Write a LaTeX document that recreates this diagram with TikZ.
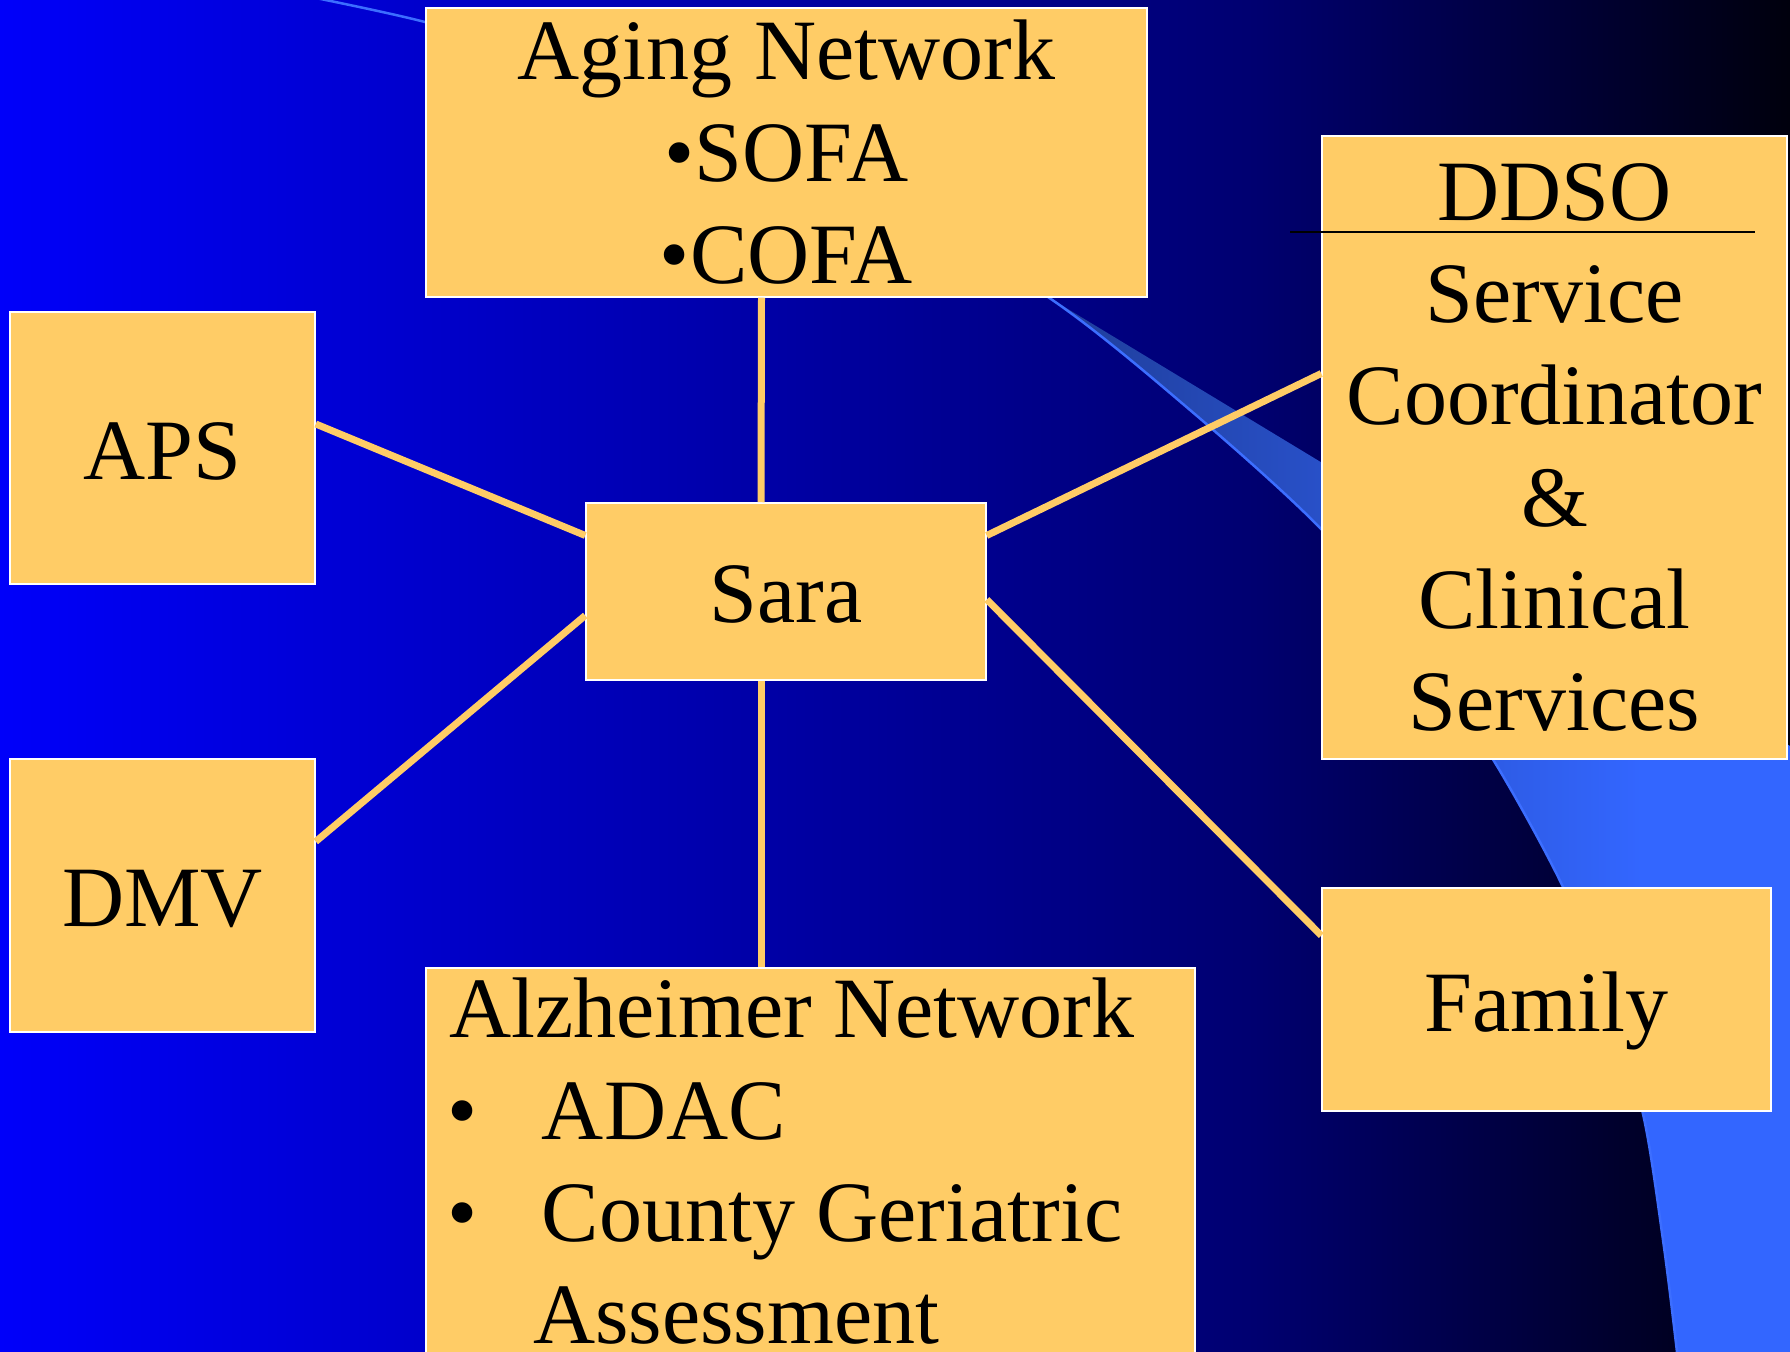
\documentclass[tikz,border=0pt]{standalone}
\usepackage{fontspec}
\setmainfont{Liberation Serif}

\definecolor{boxfill}{RGB}{255,204,102}
\definecolor{arcblue}{RGB}{60,110,255}
\pgfdeclarehorizontalshading{bgblend}{100bp}{rgb(0bp)=(0,0,0.98); rgb(25bp)=(0,0,0.98); rgb(60bp)=(0,0,0.44); rgb(75bp)=(0,0,0.05); rgb(100bp)=(0,0,0.05)}
\pgfdeclarehorizontalshading{swoosh}{100bp}{rgb(0bp)=(0.12,0.24,0.6); rgb(25bp)=(0.12,0.24,0.6); rgb(65bp)=(0.2,0.4,1); rgb(100bp)=(0.2,0.4,1)}

\begin{document}
\begin{tikzpicture}[
    x=0.5pt, y=-0.5pt,
    agency/.style={draw=white, line width=0.75pt, fill=boxfill, inner sep=0pt,
                   align=center, font=\fontsize{43}{51}\selectfont},
    single/.style={agency, text height=41pt, text depth=9.5pt},
    link/.style={draw=boxfill, line width=3.5pt}]

\useasboundingbox (0,0) rectangle (1790,1352);
\shade[shading=bgblend] (0,0) rectangle (1790,1352);

% background swoosh
\begin{scope}
  \clip plot[smooth] coordinates {(250,-15) (425,22) (640,85) (850,180) (1048,297) (1190,410) (1322,530) (1420,650) (1497,766) (1563,887) (1608,1000) (1643,1114) (1663,1240) (1677,1352) (1684,1420)}
        -- (1790,1420) -- (1790,-30) -- cycle;
  \shade[shading=swoosh] (1048,297) -- (1790,746) -- (1790,1352) -- (1048,1352) -- cycle;
\end{scope}
\draw[arcblue, line width=1.25pt] plot[smooth] coordinates {(250,-15) (425,22) (640,85) (850,180) (1048,297) (1190,410) (1322,530) (1420,650) (1497,766) (1563,887) (1608,1000) (1643,1114) (1663,1240) (1677,1352) (1684,1420)};

\node[agency, minimum width=360.5pt, minimum height=144.5pt] (aging) at (786.5,152.5) {Aging Network\\•SOFA\\•COFA};
\node[single, minimum width=152.5pt, minimum height=136pt] (aps) at (162.5,448) {APS};
\node[single, minimum width=200pt, minimum height=88.5pt] (sara) at (786,591.5) {Sara};
\node[single, minimum width=152.5pt, minimum height=136.5pt] (dmv) at (162.5,895.5) {DMV};
\node[agency, align=flush left, text width=361.5pt, inner xsep=11.5pt, minimum height=193pt] (alz) at (810.5,1161)
  {Alzheimer Network\\\makebox[46.5pt][l]{\hspace{-1pt}•}ADAC\\\makebox[46.5pt][l]{\hspace{-1pt}•}County Geriatric\\\hspace*{42pt}Assessment};
\node[agency, minimum width=232.5pt, minimum height=311.5pt] (ddso) at (1554.5,447.5)
  {DDSO\\Service\\Coordinator\\\&\\Clinical\\Services};
\node[single, minimum width=224.5pt, minimum height=111.5pt] (family) at (1546.5,999.5) {Family};

% rule under DDSO
\draw[line width=0.75pt] (1290,232) -- (1755,232);

\draw[link] ([xshift=-12.5pt]aging.south) -- ([xshift=-12.5pt]sara.north);
\draw[link] ([yshift=12pt]aps.east) -- ([yshift=28pt]sara.west);
\draw[link] ([yshift=27pt]dmv.east) -- ([yshift=-12pt]sara.west);
\draw[link] ([xshift=-12.5pt]sara.south) -- ([xshift=-24.75pt]alz.north);
\draw[link] ([yshift=28pt]sara.east) -- ([yshift=37pt]ddso.west);
\draw[link] ([yshift=-4pt]sara.east) -- ([yshift=32pt]family.west);

\end{tikzpicture}
\end{document}
